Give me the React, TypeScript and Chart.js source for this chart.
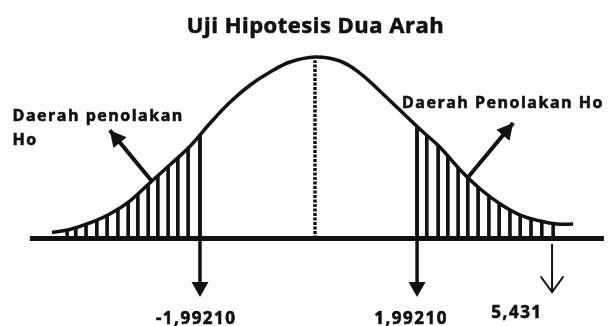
import React, { useEffect, useRef } from "react";
import { Chart, registerables } from "chart.js";

Chart.register(...registerables);

// ---- data ----
const titleText = "Uji Hipotesis Dua Arah";

// bell curve (x in drawn units, y as density)
const curveX = [-4.87, -4.54, -4.17, -3.8, -3.43, -3.06, -2.69, -2.31, -1.94, -1.57, -1.2, -0.83, -0.46, 0, 0.46, 0.83, 1.2, 1.57, 1.94, 2.31, 2.69, 3.06, 3.43, 3.8, 4.17, 4.48, 4.78];
const curveY = [0.0132, 0.0198, 0.0341, 0.0538, 0.0824, 0.122, 0.1615, 0.2033, 0.2538, 0.2999, 0.3374, 0.3659, 0.3879, 0.3989, 0.3901, 0.3637, 0.3242, 0.2824, 0.2406, 0.2011, 0.1506, 0.1088, 0.0758, 0.0516, 0.0385, 0.0319, 0.0319];

// hatch lines of the rejection regions
const leftHatchX = [-4.59, -4.43, -4.24, -4.04, -3.85, -3.65, -3.46, -3.28, -3.09, -2.91, -2.72, -2.54, -2.35, -2.13];
const leftHatchY = [0.0187, 0.0242, 0.0312, 0.0409, 0.0508, 0.0653, 0.0796, 0.0982, 0.118, 0.1378, 0.1576, 0.1782, 0.1991, 0.2286];
const rightHatchX = [1.89, 2.07, 2.28, 2.46, 2.65, 2.83, 3.02, 3.22, 3.41, 3.61, 3.8, 4.0, 4.2, 4.41];
const rightHatchY = [0.2468, 0.2268, 0.2051, 0.1809, 0.1556, 0.1338, 0.113, 0.094, 0.0775, 0.0637, 0.0516, 0.0444, 0.0376, 0.0325];

// critical values
const criticalX = [-2.13, 1.89];
const criticalTop = [0.2286, 0.2468];
const criticalLabels = ["-1,99210", "1,99210"];
const criticalLabelX = [-2.2, 1.78];

// test statistic
const statX = 4.39;
const statLabel = "5,431";
const statLabelX = 3.74;

// region labels
const leftRegionLines = ["Daerah penolakan", "Ho"];
const rightRegionText = "Daerah Penolakan Ho";

// ---- layout in data units ----
const X_MIN = -5.8333;
const X_MAX = 5.4259;
const Y_MIN = -0.1923;
const Y_MAX = 0.5242;
const BASE_FROM = -5.28;
const BASE_TO = 5.35;
const ARROW_SHAFT_END = -0.1;
const ARROW_TIP = -0.1286;
const STAT_TOP = -0.012;
const STAT_TIP = -0.1176;
const LEFT_ARROW = { from: [-3.02, 0.126], to: [-3.8, 0.238] };
const RIGHT_ARROW = { from: [2.83, 0.134], to: [3.67, 0.254] };
const TITLE_POS = { x: 0.01, y: 0.451 };
const LEFT_TEXT_POS = { x: -5.6, y1: 0.258, y2: 0.2055 };
const RIGHT_TEXT_POS = { x: 1.61, y: 0.287 };
const NUM_LABEL_Y = -0.188;
const STAT_LABEL_Y = -0.1747;

const INK = "#111111";

const overlayPlugin = {
  id: "overlay",
  beforeDraw(chart: any) {
    const { ctx, width, height } = chart;
    ctx.save();
    ctx.fillStyle = "#ffffff";
    ctx.fillRect(0, 0, width, height);
    ctx.restore();
  },
  afterDatasetsDraw(chart: any) {
    const { ctx } = chart;
    const xs = chart.scales.x;
    const ys = chart.scales.y;
    const px = (v: number) => xs.getPixelForValue(v);
    const py = (v: number) => ys.getPixelForValue(v);

    const head = (fx: number, fy: number, tx: number, ty: number, len: number, half: number) => {
      const ang = Math.atan2(ty - fy, tx - fx);
      const bx = tx - Math.cos(ang) * len;
      const by = ty - Math.sin(ang) * len;
      const nx = -Math.sin(ang) * half;
      const ny = Math.cos(ang) * half;
      ctx.beginPath();
      ctx.moveTo(tx, ty);
      ctx.lineTo(bx + nx, by + ny);
      ctx.lineTo(bx - nx, by - ny);
      ctx.closePath();
      ctx.fill();
    };

    ctx.save();
    ctx.fillStyle = INK;
    ctx.strokeStyle = INK;

    // down arrow heads at critical values
    criticalX.forEach((cx) => {
      head(px(cx), py(0), px(cx), py(ARROW_TIP), 15, 8.5);
    });

    // diagonal arrow heads
    [LEFT_ARROW, RIGHT_ARROW].forEach((a) => {
      head(px(a.from[0]), py(a.from[1]), px(a.to[0]), py(a.to[1]), 16, 8.5);
    });

    // open V head for the statistic
    ctx.lineWidth = 2;
    ctx.lineCap = "round";
    ctx.beginPath();
    const sx = px(statX);
    const st = py(STAT_TIP);
    ctx.moveTo(sx - 11, st - 15);
    ctx.lineTo(sx, st);
    ctx.lineTo(sx + 11, st - 15);
    ctx.stroke();

    // texts
    const setFont = (size: number, spacing: string) => {
      ctx.font = `bold ${size}px "Open Sans"`;
      (ctx as any).letterSpacing = spacing;
    };
    const ink = (t: string, x: number, y: number) => {
      ctx.fillText(t, x, y);
      ctx.strokeText(t, x, y);
    };
    ctx.textBaseline = "alphabetic";
    ctx.lineWidth = 0.6;
    ctx.lineJoin = "round";

    setFont(22, "0.5px");
    ctx.textAlign = "center";
    ink(titleText, px(TITLE_POS.x), py(TITLE_POS.y));

    setFont(16, "1.5px");
    ctx.textAlign = "left";
    ink(leftRegionLines[0], px(LEFT_TEXT_POS.x), py(LEFT_TEXT_POS.y1));
    ink(leftRegionLines[1], px(LEFT_TEXT_POS.x), py(LEFT_TEXT_POS.y2));
    ink(rightRegionText, px(RIGHT_TEXT_POS.x), py(RIGHT_TEXT_POS.y));

    setFont(17, "1.5px");
    ctx.textAlign = "center";
    criticalLabels.forEach((t, i) => {
      ink(t, px(criticalLabelX[i]), py(NUM_LABEL_Y));
    });
    ink(statLabel, px(statLabelX), py(STAT_LABEL_Y));
    (ctx as any).letterSpacing = "0px";
    ctx.restore();
  },
};

export default function App() {
  const ref = useRef<HTMLCanvasElement | null>(null);

  useEffect(() => {
    if (!ref.current) return;
    const curve = curveX.map((x, i) => ({ x, y: curveY[i] }));
    const hatch = [
      ...leftHatchX.map((x, i) => ({ x, y: leftHatchY[i] })),
      ...rightHatchX.map((x, i) => ({ x, y: rightHatchY[i] })),
    ];
    const critShafts: any[] = [];
    criticalX.forEach((cx, i) => {
      critShafts.push({ x: cx, y: criticalTop[i] }, { x: cx, y: ARROW_SHAFT_END }, { x: cx, y: null });
    });
    const diag: any[] = [];
    [LEFT_ARROW, RIGHT_ARROW].forEach((a) => {
      diag.push({ x: a.from[0], y: a.from[1] }, { x: a.to[0], y: a.to[1] }, { x: a.to[0], y: null });
    });

    const chart = new Chart(ref.current, {
      type: "line",
      data: {
        datasets: [
          {
            type: "line",
            data: curve,
            borderColor: INK,
            borderWidth: 3.5,
            pointRadius: 0,
            tension: 0.4,
            fill: false,
            order: 0,
          },
          {
            type: "bar",
            data: hatch,
            backgroundColor: INK,
            borderWidth: 0,
            barThickness: 3,
            order: 2,
          },
          {
            type: "line",
            data: [
              { x: BASE_FROM, y: 0 },
              { x: BASE_TO, y: 0 },
            ],
            borderColor: INK,
            borderWidth: 5,
            pointRadius: 0,
            order: 1,
          },
          {
            type: "line",
            data: [
              { x: 0, y: 0 },
              { x: 0, y: 0.392 },
            ],
            borderColor: INK,
            borderWidth: 3.5,
            borderDash: [3, 1.5],
            pointRadius: 0,
            order: 1,
          },
          {
            type: "line",
            data: critShafts,
            borderColor: INK,
            borderWidth: 3.5,
            pointRadius: 0,
            spanGaps: false,
            order: 1,
          },
          {
            type: "line",
            data: diag,
            borderColor: INK,
            borderWidth: 4,
            pointRadius: 0,
            spanGaps: false,
            order: 1,
          },
          {
            type: "line",
            data: [
              { x: statX, y: STAT_TOP },
              { x: statX, y: STAT_TIP },
            ],
            borderColor: INK,
            borderWidth: 2,
            pointRadius: 0,
            order: 1,
          },
        ] as any,
      },
      options: {
        animation: false,
        responsive: false,
        events: [],
        layout: { padding: 0 },
        plugins: {
          legend: { display: false },
          tooltip: { enabled: false },
          title: { display: false },
        },
        scales: {
          x: { type: "linear", min: X_MIN, max: X_MAX, display: false, offset: false },
          y: { type: "linear", min: Y_MIN, max: Y_MAX, display: false },
        },
      } as any,
      plugins: [overlayPlugin],
    });
    return () => chart.destroy();
  }, []);

  return (
    <div style={{ position: "fixed", left: 0, top: 0, width: 608, height: 326, background: "#fff" }}>
      <canvas ref={ref} width={608} height={326} style={{ display: "block" }} />
    </div>
  );
}
